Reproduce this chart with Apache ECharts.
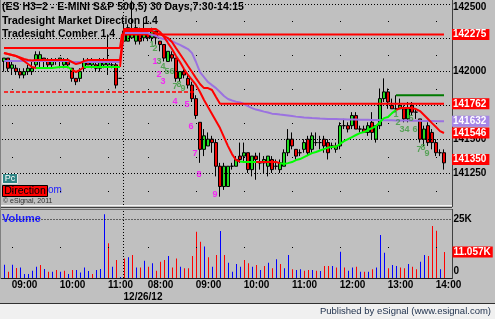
<!DOCTYPE html>
<html><head><meta charset="utf-8">
<script src="https://cdn.jsdelivr.net/npm/echarts@6/dist/echarts.min.js"></script>
<style>html,body{margin:0;padding:0;background:#c0c0c0;overflow:hidden}#c{width:495px;height:319px}</style>
</head><body><div id="c"></div>
<script>
// ---------- DATA ----------
const slots = 112;
const categories = Array.from({length: slots}, (_, i) => 'bar' + i);
const tickIdx  = [5, 17, 29, 39, 51, 63, 75, 87, 99, 111];
const tickText = ['09:00','10:00','11:00','08:00','09:00','10:00','11:00','12:00','13:00','14:00'];
const gridIdx  = [2, 14, 26, 36, 48, 60, 72, 84, 96, 108];
const sessionBreak = 29.75;
const dateLabel = '12/26/12';

const opens = [142075,142100,142025,142025,142000,141975,142000,142000,142050,142075,
142100,142075,142050,142075,142075,142050,142075,142025,141950,141950,
142025,142075,142050,142050,142025,142050,142050,142050,142050,141950,
142225,142225,142250,142225,142300,142250,142275,142250,142300,142225,
142200,142075,142125,142100,141950,142000,141950,141900,141800,141625,
141425,141450,141500,141475,141300,141150,141150,141300,141300,141375,
141375,141400,141275,141375,141325,141325,141300,141350,141300,141275,
141300,141400,141500,141425,141400,141425,141500,141425,141475,141475,
141500,141475,141450,141425,141450,141600,141600,141600,141675,141575,
141575,141550,141625,141500,141600,141800,141850,141750,141725,141725,
141725,141650,141750,141700,141650,141500,141600,141550,141475,141400,141400];
const closes = [142100,142025,142050,142000,141975,142000,142025,142025,142125,142125,
142075,142050,142075,142075,142100,142075,142050,141950,141925,142000,
142075,142050,142075,142025,142075,142075,142075,142050,141900,141950,
142300,142325,142300,142325,142225,142300,142250,142300,142250,142200,
142100,142150,142100,141950,142000,141975,141900,141800,141675,141425,
141525,141500,141475,141300,141150,141300,141300,141300,141350,141350,
141400,141275,141375,141350,141325,141350,141375,141275,141300,141325,
141400,141500,141450,141375,141400,141475,141400,141525,141475,141475,
141450,141400,141450,141450,141600,141600,141575,141675,141575,141575,
141550,141600,141550,141600,141800,141850,141775,141725,141725,141750,
141650,141725,141700,141700,141500,141575,141475,141475,141400,141400,141325];
const lows = [142000,142000,141975,141975,141950,141950,141975,141975,142025,142025,
142025,142025,142025,142050,142025,142025,142025,141925,141900,141925,
142000,142050,142025,142000,142000,142025,141975,142025,141875,141950,
142225,142225,142250,142200,142200,142225,142225,142225,142200,142150,
142075,142075,142075,141925,141925,141950,141875,141775,141650,141325,
141375,141450,141400,141225,141075,141125,141150,141275,141300,141325,
141325,141250,141225,141200,141275,141250,141225,141250,141275,141250,
141300,141375,141425,141350,141375,141400,141375,141400,141450,141425,
141400,141350,141425,141400,141425,141575,141550,141575,141575,141550,
141550,141525,141500,141475,141575,141775,141725,141725,141700,141725,
141625,141625,141675,141650,141475,141450,141450,141425,141375,141375,141275];
const highs = [142100,142100,142075,142050,142025,142025,142050,142075,142150,142150,
142100,142100,142100,142100,142100,142100,142100,142025,141950,142025,
142100,142100,142100,142075,142100,142100,142275,142075,142075,141950,
142350,142350,142525,142350,142325,142400,142300,142325,142300,142225,
142200,142150,142150,142100,142000,142025,141975,141925,141825,141625,
141575,141550,141525,141500,141325,141325,141300,141325,141375,141475,
141475,141400,141375,141400,141400,141375,141375,141375,141350,141350,
141425,141575,141550,141425,141425,141500,141525,141550,141550,141525,
141525,141500,141475,141475,141625,141650,141625,141700,141700,141600,
141600,141625,141700,141600,141875,141950,141875,141800,141825,141800,
141750,141775,141775,141725,141650,141600,141625,141575,141500,141425,141425];

const volumes = [5.6,2.7,5.6,4.2,4.4,1.7,1.7,3.1,4.8,5.5,
3.8,2.7,2.7,3.4,2.7,3.1,1.7,3.4,3.4,2.3,
4.5,3.0,1.7,3.4,3.8,27.0,14.7,4.8,7.6,0.4,
8.3,8.8,9.7,4.5,4.5,7.3,4.8,6.2,3.1,6.9,
7.6,9.3,4.5,8.3,4.8,4.1,4.1,9.3,19.6,15.4,
13.3,8.8,4.8,9.7,19.9,9.7,6.5,2.7,5.9,4.8,
7.6,6.2,4.8,5.5,3.4,5.1,6.5,4.1,7.9,5.9,
4.1,9.7,3.7,3.4,3.7,3.1,3.4,3.4,3.1,3.0,
5.1,5.1,5.1,4.5,11.1,4.5,3.1,4.5,4.8,2.7,
2.7,2.7,3.7,4.5,18.2,10.7,4.1,5.5,5.1,4.5,
4.1,5.9,4.8,3.7,6.9,9.7,9.3,22.0,20.0,3.7,11.057];
const volumeUp = [1,0,1,0,1,1,1,1,1,0, 1,0,1,0,1,0,1,0,1,1, 1,1,0,1,1,1,0,1,0,1,
0,1,0,1,0,1,0,1,0,0, 0,1,0,0,1,0,0,0,0,0, 1,0,1,0,1,0,1,1,1,1, 0,0,1,0,1,0,1,0,1,0,
1,1,0,1,1,0,0,1,0,1, 0,0,1,0,1,0,1,1,0,1, 0,1,0,1,1,1,0,1,1,0, 0,1,0,0,1,1,0,0,0,1,0];

const trail = [142137,142130,142123,142115,142100,142078,142056,142034,142026,142026,
142026,142026,142026,142030,142034,142034,142034,142012,141997,142012,
142034,142034,142034,142034,142034,142034,142034,142034,142034,142034,
142315,142315,142315,142315,142315,142315,142315,142315,142315,142293,
142256,142211,142167,142115,142071,142019,141975,141938,141901,141849,
141790,141738,141686,141634,141582,141516,141449,141390,141346,141335,
141331,141331,141331,141331,141331,141331,141331,141331,141331,141323,
141316,141323,141331,141346,141353,141368,141383,141397,141405,141416,
141427,141438,141442,141446,141464,141486,141501,141516,141531,141545,
141553,141568,141582,141597,141627,141656,141664,141693,141716,141730,
141730,141730,141730,141723,141708,141679,141649,141619,141590,141560,141546];
const trailUp = [0,0,0,0,0,0,0,0,1,1, 1,1,1,1,1,1,1,0,0,0, 1,1,1,1,1,1,1,1,1,0,
0,0,0,0,0,0,0,0,0,0, 0,0,0,0,0,0,0,0,0,0, 0,0,0,0,0,0,0,0,0,1, 1,1,1,0,0,0,0,0,0,1,
1,1,1,1,1,1,1,1,1,1, 1,1,0,1,1,1,1,1,1,1, 1,1,1,1,1,1,1,1,0,0, 0,0,0,0,0,0,0,0,0,0,0];

const direction = [142137,142130,142123,142115,142104,142093,142086,142082,142086,142086,
142086,142086,142086,142086,142086,142086,142086,142071,142056,142063,
142078,142086,142086,142086,142086,142086,142086,142086,142086,142086,
142300,142300,142300,142300,142300,142300,142300,142300,142285,142278,
142263,142248,142219,142174,142130,142086,142041,141997,141952,141908,
141878,141878,141864,141812,141762,141762,141762,141762,141762,141762,
141762,141762,141762,141762,141762,141762,141762,141762,141762,141762,
141762,141762,141762,141762,141762,141762,141762,141762,141762,141762,
141762,141762,141762,141762,141762,141762,141762,141762,141762,141762,
141762,141762,141762,141762,141762,141762,141762,141762,141762,141762,
141762,141762,141762,141762,141762,141762,141762,141762,141762,141762,141762];

const average = [142078,142078,142078,142078,142078,142078,142078,142078,142078,142078,
142078,142078,142078,142078,142078,142078,142078,142071,142071,142071,
142071,142071,142071,142071,142071,142071,142071,142071,142071,142071,
142285,142285,142285,142285,142285,142285,142285,142270,142265,142248,
142241,142234,142226,142211,142197,142182,142167,142137,142071,141997,
141960,141923,141900,141878,141849,141819,141797,141786,141778,141771,
141760,141745,141730,141719,141712,141704,141697,141689,141686,141682,
141679,141675,141671,141667,141664,141660,141658,141656,141655,141653,
141652,141650,141649,141649,141648,141647,141646,141645,141645,141644,
141643,141643,141642,141642,141641,141641,141640,141640,141639,141639,
141638,141638,141637,141637,141636,141635,141635,141634,141633,141633,141632];

const sessionLevels = [142175, 142275];
const sessionFirstBar = [0, 30];
const dashedLevel = 141850, dashedFrom = 0, dashedTo = 48;
const greenLevel = 141825, greenFrom = 98, greenTo = 110;

const countText = ['1','2','3','4','5','6','7','8','9','1','2','3','4','5','6','7','8','9','1','2','3','4','5','6','7','8','9'];
const countX = [37,37.75,38.75,39.75,40.75,42,42.75,43.75,44.75, 37.75,38.75,39.75,42.75,45.75,46.75,47.75,48.75,52.75, 98,98.5,99.5,100.75,101.75,102.75,103.75,104.75,105.75];
const countY = [142204,142174,142078,142041,142004,142004,141886,141908,141878, 142078,141982,141930,141782,141753,141597,141397,141242,141094, 141686,141627,141575,141575,141656,141575,141427,141442,141397];
const countKind = ['g','g','g','g','g','g','g','g','g','m','m','m','m','m','m','m','m','m','g','g','g','g','g','g','g','g','g'];

const priceGrid = [142500, 142250, 142000, 141750, 141500, 141250];
const priceLabelShown = [1, 0, 1, 0, 1, 1];
const boxValues = [142275, 141762, 141632, 141546, 141350];
const boxKinds = ['r', 'r', 'p', 'r', 'r'];
const volumeTicks = [25];
const lastVolume = 11.057;

// ---------- CHART ----------
const FONT = '"Liberation Sans", Arial, sans-serif';
const yMin = 141013.3, yMax = 142529.6, vMax = 29.24;
const RED = '#ff0000', LIME = '#00ff00', PURPLE = '#9b72e0', CLEAR = 'rgba(0,0,0,0)';

const candleData = opens.map((o, i) => [o, closes[i], lows[i], highs[i]]);
const pairs = arr => arr.map((v, i) => [i, v]);
function segment(arr, states, want) {
  return arr.map((v, i) => {
    const on = states[i] === want || (i > 0 && states[i - 1] === want);
    return [i, on ? v : '-'];
  });
}
const levelData = opens.map((_, i) => [i, i >= sessionFirstBar[1] ? sessionLevels[1] : sessionLevels[0]]);
const dashedData = opens.map((_, i) => [i, (i >= dashedFrom && i <= dashedTo) ? dashedLevel : '-']);
const greenData = opens.map((_, i) => [i, (i >= greenFrom && i <= greenTo) ? greenLevel : '-']);

const lblBase = {fontFamily: FONT, fontSize: 10, fontWeight: 'bold'};

const option = {
  animation: false,
  backgroundColor: '#c0c0c0',
  grid: [
    {left: 2, top: 0, width: 448, height: 205},
    {left: 2.5, top: 209, width: 448, height: 69}
  ],
  xAxis: [
    {type: 'category', gridIndex: 0, data: categories, show: false, boundaryGap: true},
    {type: 'value', gridIndex: 0, min: -0.5, max: slots - 0.5, show: false},
    {type: 'category', gridIndex: 1, data: categories, boundaryGap: true,
      axisLine: {show: false}, axisTick: {show: false}, splitLine: {show: false},
      axisLabel: {
        interval: (idx) => tickIdx.indexOf(idx) >= 0,
        formatter: (val, idx) => { const k = tickIdx.indexOf(idx); return k >= 0 ? tickText[k] : ''; },
        margin: 2, fontSize: 10, fontWeight: 'bold', color: '#000', fontFamily: FONT
      }},
    {type: 'value', gridIndex: 1, min: -0.5, max: slots - 0.5, show: false}
  ],
  yAxis: [
    {type: 'value', gridIndex: 0, min: yMin, max: yMax, show: false},
    {type: 'value', gridIndex: 1, min: 0, max: vMax, show: false}
  ],
  series: [
    {
      type: 'candlestick', xAxisIndex: 0, yAxisIndex: 0, data: candleData, barWidth: 3, z: 3,
      itemStyle: {color: '#22dd22', color0: '#ee0000', borderColor: '#000', borderColor0: '#000', borderWidth: 1},
      markLine: {
        silent: true, symbol: ['none', 'none'], animation: false,
        lineStyle: {color: '#000', width: 1, type: [1, 2]},
        label: Object.assign({position: 'end', distance: 3, color: '#000'}, lblBase),
        data: priceGrid.map((v, k) => ({yAxis: v, label: {show: !!priceLabelShown[k], formatter: String(v), offset: k === 0 ? [0, 3] : [0, 0]}}))
      }
    },
    {type: 'line', xAxisIndex: 1, yAxisIndex: 0, data: dashedData, symbol: 'none', z: 4,
      lineStyle: {color: RED, width: 1.5, type: [4, 2]}},
    {type: 'line', xAxisIndex: 1, yAxisIndex: 0, data: levelData, step: 'middle', symbol: 'none', z: 4,
      lineStyle: {color: RED, width: 2}},
    {type: 'line', xAxisIndex: 1, yAxisIndex: 0, data: pairs(average), symbol: 'none', z: 5,
      lineStyle: {color: PURPLE, width: 2},
      markLine: {
        silent: true, symbol: ['none', 'none'], animation: false, label: {show: false},
        data: gridIdx.map(v => ({xAxis: v, lineStyle: {color: '#000', width: 1, type: [1, 33], dashOffset: 21}}))
          .concat([{xAxis: sessionBreak, lineStyle: {color: '#000', width: 1, type: [1, 2]}}])
      }},
    {type: 'line', xAxisIndex: 1, yAxisIndex: 0, data: pairs(direction), symbol: 'none', z: 6,
      lineStyle: {color: RED, width: 2}},
    {type: 'line', xAxisIndex: 1, yAxisIndex: 0, data: segment(trail, trailUp, 0), symbol: 'none', z: 7,
      lineStyle: {color: RED, width: 2}},
    {type: 'line', xAxisIndex: 1, yAxisIndex: 0, data: segment(trail, trailUp, 1), symbol: 'none', z: 7,
      lineStyle: {color: LIME, width: 2}},
    {type: 'line', xAxisIndex: 1, yAxisIndex: 0, data: greenData, symbol: 'none', z: 7,
      lineStyle: {color: '#007a00', width: 2}},
    {type: 'scatter', xAxisIndex: 1, yAxisIndex: 0, symbolSize: 1, z: 9,
      itemStyle: {color: CLEAR},
      label: {show: true, position: 'inside', formatter: '{b}', fontFamily: FONT, fontSize: 9, fontWeight: 'bold'},
      data: countText.map((t, k) => ({name: t, value: [countX[k], countY[k]],
        label: {color: countKind[k] === 'm' ? '#ff00ff' : '#3c9a3c'}}))},
    {type: 'line', xAxisIndex: 1, yAxisIndex: 0, data: [], z: 12,
      markLine: {
        silent: true, symbol: ['none', 'none'], animation: false,
        lineStyle: {color: CLEAR, width: 1, type: 'solid'},
        label: Object.assign({position: 'end', distance: 2, color: '#fff', padding: [1, 3, 0, 1]}, lblBase),
        data: boxValues.map((v, k) => ({yAxis: v, label: {formatter: String(v),
          backgroundColor: boxKinds[k] === 'p' ? '#a586e6' : RED}}))
      }},
    {
      type: 'bar', xAxisIndex: 2, yAxisIndex: 1, barWidth: 1, z: 3,
      data: volumes.map((v, i) => ({value: v, itemStyle: {color: volumeUp[i] ? '#0000ff' : '#ff0000'}})),
      markLine: {
        silent: true, symbol: ['none', 'none'], animation: false,
        lineStyle: {color: '#000', width: 1, type: [1, 2]},
        label: Object.assign({position: 'end', distance: 3, color: '#000'}, lblBase),
        data: volumeTicks.map(v => ({yAxis: v, label: {formatter: v + 'K'}}))
          .concat([{yAxis: 0, lineStyle: {color: CLEAR}, label: {formatter: '0', offset: [0, -7]}}])
      }
    },
    {type: 'line', xAxisIndex: 3, yAxisIndex: 1, data: [], z: 12,
      markLine: {
        silent: true, symbol: ['none', 'none'], animation: false,
        lineStyle: {color: CLEAR, width: 1, type: 'solid'},
        label: Object.assign({position: 'end', distance: 2, color: '#fff', backgroundColor: RED, padding: [1, 2, 0, 1]}, lblBase),
        data: [{yAxis: lastVolume, label: {formatter: lastVolume.toFixed(3) + 'K'}}]
      }},
    {type: 'line', xAxisIndex: 3, yAxisIndex: 1, data: [], z: 2,
      markLine: {
        silent: true, symbol: ['none', 'none'], animation: false, label: {show: false},
        data: gridIdx.map(v => ({xAxis: v, lineStyle: {color: '#000', width: 1, type: [1, 200], dashOffset: 171}}))
          .concat([{xAxis: sessionBreak, lineStyle: {color: '#000', width: 1, type: [1, 2]}}])
      }}
  ],
  graphic: [
    {type: 'rect', shape: {x: 0, y: 304, width: 495, height: 15}, style: {fill: '#f0f0f0'}, silent: true},
    {type: 'line', shape: {x1: 0, y1: 303.5, x2: 495, y2: 303.5}, style: {stroke: '#303030', lineWidth: 1}, silent: true},
    {type: 'line', shape: {x1: 452.5, y1: 0, x2: 452.5, y2: 207}, style: {stroke: '#404040', lineWidth: 1}, silent: true},
    {type: 'line', shape: {x1: 452.5, y1: 209, x2: 452.5, y2: 279}, style: {stroke: '#404040', lineWidth: 1}, silent: true},
    {type: 'line', shape: {x1: 0, y1: 205.5, x2: 452, y2: 205.5}, style: {stroke: '#f4f4f4', lineWidth: 1}, silent: true},
    {type: 'line', shape: {x1: 0, y1: 207.5, x2: 452, y2: 207.5}, style: {stroke: '#404040', lineWidth: 1}, silent: true},
    {type: 'line', shape: {x1: 0, y1: 209.5, x2: 452, y2: 209.5}, style: {stroke: '#707070', lineWidth: 1}, silent: true},
    {type: 'line', shape: {x1: 0, y1: 278.5, x2: 452, y2: 278.5}, style: {stroke: '#202020', lineWidth: 1}, silent: true},
    {type: 'line', shape: {x1: 0.5, y1: 0, x2: 0.5, y2: 279}, style: {stroke: '#808080', lineWidth: 1}, silent: true},
    {type: 'text', x: 2, y: 7, style: {text: '(ES H3=2 - E-MINI S&P 500,5) 30 Days,7:30-14:15', fill: '#000', font: 'bold 10.5px ' + FONT, textVerticalAlign: 'middle', backgroundColor: '#c0c0c0'}},
    {type: 'text', x: 2, y: 21.5, style: {text: 'Tradesight Market Direction 1.4', fill: '#000', font: 'bold 10.5px ' + FONT, textVerticalAlign: 'middle'}},
    {type: 'text', x: 2, y: 34, style: {text: 'Tradesight Comber 1.4', fill: '#000', font: 'bold 10.5px ' + FONT, textVerticalAlign: 'middle', backgroundColor: '#c0c0c0'}},
    {type: 'rect', shape: {x: 2.5, y: 173.5, width: 15, height: 10}, style: {fill: '#2f8585', stroke: '#e8e8e8', lineWidth: 1}},
    {type: 'text', x: 10, y: 179, style: {text: 'Pc', fill: '#fff', font: '9px ' + FONT, textAlign: 'center', textVerticalAlign: 'middle'}},
    {type: 'rect', shape: {x: 2.5, y: 185.5, width: 45, height: 11}, style: {fill: '#ff0000', stroke: '#000', lineWidth: 1}},
    {type: 'text', x: 25, y: 191.5, style: {text: 'Direction', fill: '#000', font: '10.5px ' + FONT, textAlign: 'center', textVerticalAlign: 'middle'}},
    {type: 'text', x: 48, y: 190.5, style: {text: 'om', fill: '#2020ff', font: '10px ' + FONT, textVerticalAlign: 'middle'}},
    {type: 'text', x: 3, y: 201.5, style: {text: '\u00a9 eSignal, 2011', fill: '#303030', font: '7px ' + FONT, textVerticalAlign: 'middle'}},
    {type: 'text', x: 2, y: 218.5, style: {text: 'Volume', fill: '#2020ff', font: 'bold 11px ' + FONT, textVerticalAlign: 'middle', backgroundColor: '#c0c0c0', padding: [0, 2, 0, 0]}},
    {type: 'text', x: 143, y: 297, style: {text: dateLabel, fill: '#000', font: 'bold 10px ' + FONT, textAlign: 'center', textVerticalAlign: 'middle'}},
    {type: 'text', x: 491, y: 311.5, style: {text: 'Published by eSignal (www.esignal.com)', fill: '#1c2e4a', font: '9.5px ' + FONT, textAlign: 'right', textVerticalAlign: 'middle'}}
  ]
};
const chart = echarts.init(document.getElementById('c'), null, {renderer: 'canvas'});
chart.setOption(option);
</script></body></html>
